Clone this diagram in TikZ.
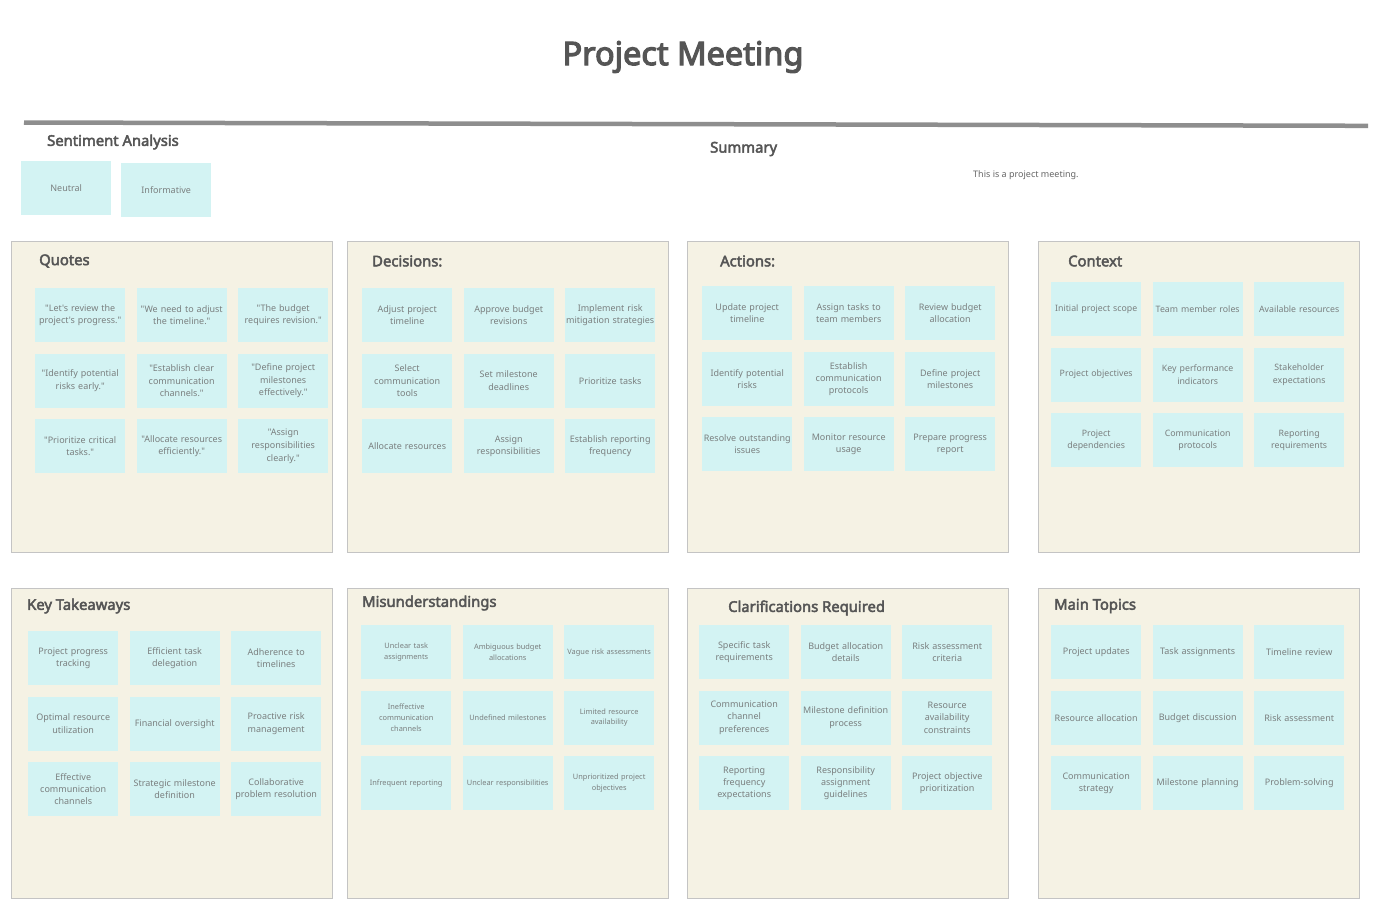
\documentclass[tikz,border=0pt]{standalone}
\usepackage{fontspec}
\setmainfont{Noto Sans}[Ligatures=TeXOff]
\newfontfamily\headfont{Noto Sans}[FakeBold=3]
\newfontfamily\titlefont{Noto Sans}[FakeBold=3.6]
\definecolor{panelfill}{HTML}{F5F2E4}
\definecolor{panelline}{HTML}{C4C4C4}
\definecolor{stickyfill}{HTML}{D3F3F3}
\definecolor{stickytext}{HTML}{7A7F7F}
\definecolor{headtext}{HTML}{555555}
\definecolor{rulecol}{HTML}{8E8E8E}
\newcommand\fs[2]{\fontsize{#1}{#2}\selectfont}
\newcommand\panelgrid[5]{%
  \foreach \t [count=\k from 0] in {#5}{%
    \pgfmathtruncatemacro\cc{mod(\k,3)}%
    \pgfmathtruncatemacro\rr{div(\k,3)}%
    \node[sticky,font=#4] (#1\k) at ({#2+101.5*\cc},{#3+65.5*\rr}) {\t};}}
\begin{document}
\begin{tikzpicture}[x=1pt,y=-1pt,
  panel/.style={draw=panelline,fill=panelfill,line width=0.8pt},
  sticky/.style={rectangle,fill=stickyfill,anchor=north west,minimum width=90pt,minimum height=54pt,inner sep=0pt,align=center,text width=90pt,text=stickytext},
  phead/.style={anchor=west,inner sep=0pt,text=headtext,font=\headfont\fs{14.8}{17}},
  ]
\useasboundingbox (0,0) rectangle (1373,914);
\fill[white] (0,0) rectangle (1373,914);
% title
\node[text=headtext,font=\titlefont\fs{32.5}{38}] (title) at (683,57) {Project Meeting};
\coordinate (ruleL) at (24,122.5);
\coordinate (ruleR) at (1368,125.8);
\draw[rulecol,line width=4.5pt] (ruleL) -- (ruleR);
% sentiment
\node[phead] (senthead) at (47,142) {Sentiment Analysis};
\node[sticky,font=\fs{9}{12}] (neutral) at (21,161) {Neutral};
\node[sticky,font=\fs{9}{12}] (informative) at (121,163) {Informative};
% summary
\node[phead] (sumhead) at (710,149) {Summary};
\node[anchor=west,inner sep=0pt,text=headtext!90,font=\fs{9}{12}] (sumtext) at (973,175) {This is a project meeting.};
% panels
\draw[panel] (11,241) rectangle (332,552);
\draw[panel] (347,241) rectangle (668,552);
\draw[panel] (687,241) rectangle (1008,552);
\draw[panel] (1038,241) rectangle (1359,552);
\draw[panel] (11,588) rectangle (332,898);
\draw[panel] (347,588) rectangle (668,898);
\draw[panel] (687,588) rectangle (1008,898);
\draw[panel] (1038,588) rectangle (1359,898);
\node[phead] (h1) at (39,261) {Quotes};
\node[phead] (h2) at (372,261) {Decisions:};
\node[phead] (h3) at (720,261) {Actions:};
\node[phead] (h4) at (1068,261) {Context};
\node[phead] (h5) at (27,606) {Key Takeaways};
\node[phead] (h6) at (362,603) {Misunderstandings};
\node[phead] (h7) at (728,608) {Clarifications Required};
\node[phead] (h8) at (1054,606) {Main Topics};
\panelgrid{q}{35}{288}{\fs{9}{12.6}}{{"Let's review the\\project's progress."},{"We need to adjust\\the timeline."},{"The budget\\requires revision."},{"Identify potential\\risks early."},{"Establish clear\\communication\\channels."},{"Define project\\milestones\\effectively."},{"Prioritize critical\\tasks."},{"Allocate resources\\efficiently."},{"Assign\\responsibilities\\clearly."}}
\panelgrid{d}{362}{288}{\fs{9}{12.3}}{{Adjust project\\timeline},{Approve budget\\revisions},{Implement risk\\mitigation strategies},{Select\\communication\\tools},{Set milestone\\deadlines},{Prioritize tasks},{Allocate resources},{Assign\\responsibilities},{Establish reporting\\frequency}}
\panelgrid{a}{702}{286}{\fs{9}{12}}{{Update project\\timeline},{Assign tasks to\\team members},{Review budget\\allocation},{Identify potential\\risks},{Establish\\communication\\protocols},{Define project\\milestones},{Resolve outstanding\\issues},{Monitor resource\\usage},{Prepare progress\\report}}
\panelgrid{c}{1051}{282}{\fs{8.8}{12.2}}{{Initial project scope},{Team member roles},{Available resources},{Project objectives},{Key performance\\indicators},{Stakeholder\\expectations},{Project\\dependencies},{Communication\\protocols},{Reporting\\requirements}}
\panelgrid{k}{28}{631}{\fs{9}{12.3}}{{Project progress\\tracking},{Efficient task\\delegation},{Adherence to\\timelines},{Optimal resource\\utilization},{Financial oversight},{Proactive risk\\management},{Effective\\communication\\channels},{Strategic milestone\\definition},{Collaborative\\problem resolution}}
\panelgrid{m}{361}{625}{\fs{7.4}{10.7}}{{Unclear task\\assignments},{Ambiguous budget\\allocations},{Vague risk assessments},{Ineffective\\communication\\channels},{Undefined milestones},{Limited resource\\availability},{Infrequent reporting},{Unclear responsibilities},{Unprioritized project\\objectives}}
\panelgrid{r}{699}{625}{\fs{9}{12.2}}{{Specific task\\requirements},{Budget allocation\\details},{Risk assessment\\criteria},{Communication\\channel\\preferences},{Milestone definition\\process},{Resource\\availability\\constraints},{Reporting\\frequency\\expectations},{Responsibility\\assignment\\guidelines},{Project objective\\prioritization}}
\panelgrid{t}{1051}{625}{\fs{9}{12.2}}{{Project updates},{Task assignments},{Timeline review},{Resource allocation},{Budget discussion},{Risk assessment},{Communication\\strategy},{Milestone planning},{Problem-solving}}
\end{tikzpicture}
\end{document}
